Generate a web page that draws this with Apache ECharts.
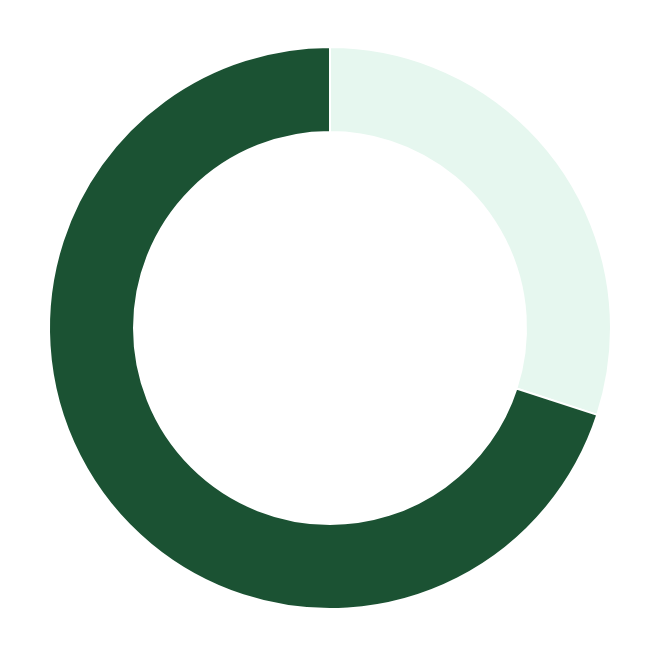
<!DOCTYPE html>
<html><head><meta charset="utf-8">
<script src="https://cdn.jsdelivr.net/npm/echarts@6/dist/echarts.min.js"></script>
<style>html,body{margin:0;padding:0;background:#fff}#c{width:660px;height:656px}</style>
</head><body><div id="c"></div>
<script>
const categories = ['A', 'B'];
const values = [30, 70];
const colors = ['#e6f7ef', '#1b5233'];
const chart = echarts.init(document.getElementById('c'));
chart.setOption({
  animation: false,
  series: [{
    type: 'pie',
    center: ['50%', '50%'],
    radius: [196, 281],
    startAngle: 90,
    clockwise: true,
    label: { show: false },
    labelLine: { show: false },
    itemStyle: { borderColor: '#fff', borderWidth: 2 },
    emphasis: { disabled: true },
    data: categories.map((c, i) => ({ name: c, value: values[i], itemStyle: { color: colors[i] } }))
  }]
});
</script></body></html>
